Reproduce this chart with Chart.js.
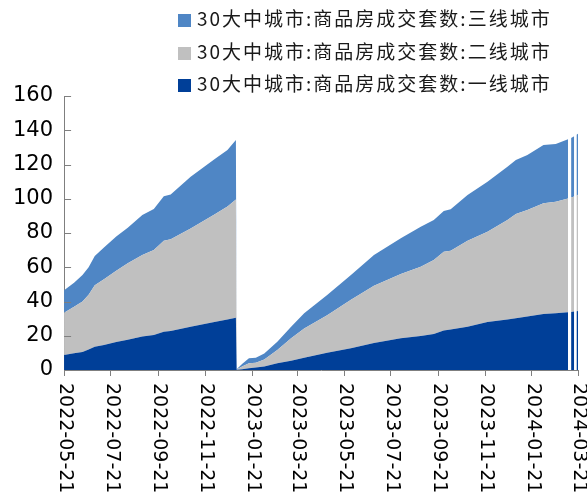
<html>
<head>
<meta charset="utf-8">
<title>30大中城市商品房成交套数</title>
<script src="https://cdn.jsdelivr.net/npm/chart.js@4.4.1/dist/chart.umd.min.js"></script>
<style>
	body { margin: 0; background: #fff; }
	#wrap { position: relative; width: 587px; height: 493px; overflow: hidden; }
	#chart { position: absolute; left: 0; top: 0; }
	#legend { position: absolute; left: 178px; top: 2px; font-family: "Noto Sans CJK SC", sans-serif; font-size: 19px; letter-spacing: 2px; color: #1a1a1a; }
	#legend div { height: 32.5px; line-height: 32.5px; white-space: nowrap; }
	#legend span { display: inline-block; width: 13px; height: 13px; margin-right: 6px; vertical-align: -1px; }
</style>
</head>
<body>
<div id="wrap">
	<canvas id="chart" width="587" height="493"></canvas>
	<div id="legend"></div>
</div>

<script>
	// days counted from 2022-05-21, null = missing data
	var days  = [0, 13, 24, 32, 40, 52, 68, 83, 102, 117, 130, 139, 165, 196, 213, 224,
		225, 232, 241, 250, 261, 278, 296, 313, 343, 374, 404, 439, 465, 482, 495, 504,
		526, 552, 578, 589, 604, 625, 641, 657, 659, 661, 665, 666, 668, 670];
	var tier1 = [8.8, 9.8, 10.5, 12.0, 13.6, 14.6, 16.3, 17.6, 19.5, 20.5, 22.4, 22.8, 25.3, 28.0, 29.5, 30.5,
		0.1, 0.5, 1.0, 1.4, 2.0, 3.9, 5.4, 7.2, 10.1, 12.7, 15.8, 18.5, 19.9, 21.0, 23.0, 23.6,
		25.3, 28.0, 29.5, 30.2, 31.3, 32.7, 33.2, 33.7, null, 33.9, 34.1, null, 34.3, 34.5];
	var tier2 = [24.7, 27.2, 29.5, 32.0, 35.9, 38.4, 41.7, 44.7, 47.7, 49.6, 53.1, 53.5, 57.4, 62.8, 66.0, 69.0,
		0.2, 1.5, 3.0, 2.9, 4.2, 7.8, 13.1, 17.1, 21.9, 28.3, 33.4, 37.5, 40.4, 43.2, 46.0, 46.1,
		50.2, 52.8, 58.1, 60.9, 62.1, 64.6, 65.1, 66.5, null, 66.9, 67.2, null, 67.5, 67.9];
	var tier3 = [13.0, 14.0, 15.5, 16.0, 17.0, 18.5, 20.0, 20.7, 23.3, 23.9, 26.0, 26.2, 30.2, 32.2, 33.0, 34.8,
		0.2, 1.5, 2.8, 2.9, 3.5, 4.8, 6.8, 8.8, 11.8, 14.5, 18.0, 20.9, 23.4, 23.4, 23.8, 24.1,
		26.7, 29.2, 31.1, 31.5, 32.1, 34.1, 33.7, 34.5, null, 34.7, 35.2, null, 35.5, 35.6];

	var xTickDays   = [0, 61, 123, 184, 245, 304, 365, 426, 488, 549, 610, 670];
	var xTickLabels = ['2022-05-21', '2022-07-21', '2022-09-21', '2022-11-21', '2023-01-21', '2023-03-21',
		'2023-05-21', '2023-07-21', '2023-09-21', '2023-11-21', '2024-01-21', '2024-03-21'];

	var names  = ['30大中城市:商品房成交套数:一线城市', '30大中城市:商品房成交套数:二线城市', '30大中城市:商品房成交套数:三线城市'];
	var colors = ['#003f98', '#c0c0c0', '#4f86c5'];

	function pts(vals) {
		return days.map(function (d, i) { return {x: d, y: vals[i]}; });
	}

	// legend, top row is the top layer
	var legendHtml = '';
	for (var i = names.length - 1; i >= 0; i--) {
		legendHtml += '<div><span style="background:' + colors[i] + '"></span>' + names[i] + '</div>';
	}
	document.getElementById('legend').innerHTML = legendHtml;

	var axisColor = '#7f7f7f';

	// y ticks point inward, x labels read top to bottom
	var axisDecor = {
		id: 'axisDecor',
		afterDraw: function (chart) {
			var ctx = chart.ctx, xs = chart.scales.x, ys = chart.scales.y;
			ctx.save();
			ctx.strokeStyle = axisColor;
			ctx.lineWidth = 1;
			ys.ticks.forEach(function (t) {
				var py = Math.round(ys.getPixelForValue(t.value)) + 0.5;
				ctx.beginPath();
				ctx.moveTo(xs.left, py);
				ctx.lineTo(xs.left + 7, py);
				ctx.stroke();
			});
			ctx.fillStyle = '#000';
			ctx.font = '19px "DejaVu Sans"';
			ctx.textAlign = 'left';
			ctx.textBaseline = 'middle';
			xTickDays.forEach(function (d, i) {
				var px = xs.getPixelForValue(d);
				ctx.save();
				ctx.translate(px + 1, ys.bottom + 13);
				ctx.rotate(Math.PI / 2);
				ctx.fillText(xTickLabels[i], 0, 0);
				ctx.restore();
			});
			ctx.restore();
		}
	};

	new Chart(document.getElementById('chart'), {
		type: 'line',
		data: {
			datasets: [0, 1, 2].map(function (k) {
				return {
					label: names[k],
					data: pts([tier1, tier2, tier3][k]),
					fill: k === 0 ? 'origin' : '-1',
					backgroundColor: colors[k],
					borderColor: colors[k],
					borderWidth: 0,
					pointRadius: 0,
					tension: 0
				};
			})
		},
		options: {
			responsive: false,
			animation: false,
			layout: { padding: { top: 96, left: 2, right: 9, bottom: 117 } },
			plugins: { legend: { display: false }, tooltip: { enabled: false } },
			scales: {
				x: {
					type: 'linear',
					min: 0,
					max: 670,
					z: 1,
					afterBuildTicks: function (s) { s.ticks = xTickDays.map(function (v) { return {value: v}; }); },
					ticks: { display: false },
					grid: { display: true, drawOnChartArea: false, drawTicks: true, tickLength: 6, color: axisColor },
					border: { display: true, color: axisColor, width: 1 }
				},
				y: {
					stacked: true,
					min: 0,
					max: 160,
					z: 1,
					ticks: { stepSize: 20, padding: 11, color: '#000', font: { family: 'DejaVu Sans', size: 21 } },
					grid: { display: false, drawTicks: false },
					border: { display: true, color: axisColor, width: 1 }
				}
			}
		},
		plugins: [axisDecor]
	});
</script>
</body>
</html>
